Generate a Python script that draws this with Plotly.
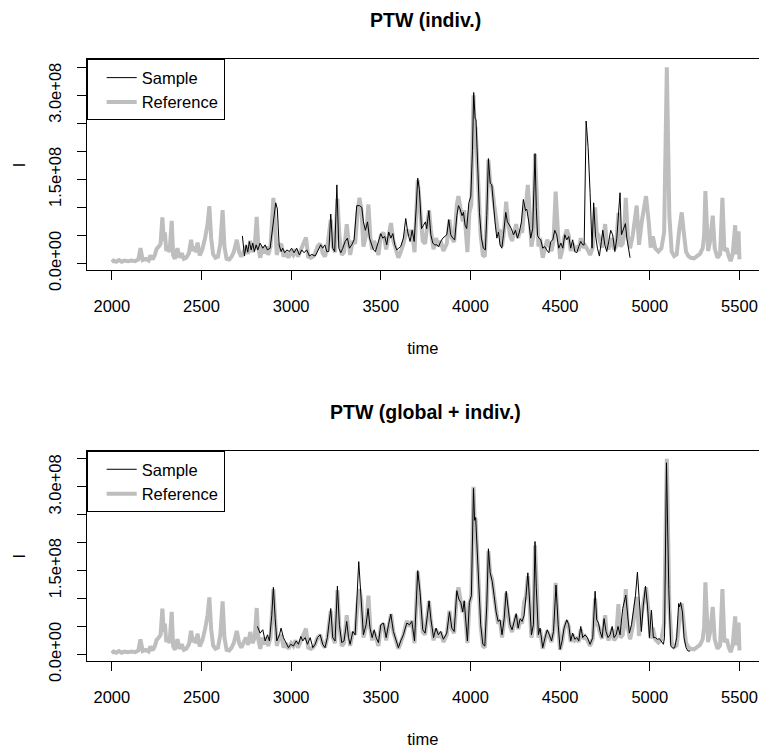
import numpy as np
import plotly.graph_objects as go

# ---------------- data (intensity in units of 1e8) ----------------
ref_time = [2000, 2010, 2025, 2040, 2055, 2070, 2090, 2110, 2130, 2148, 2160, 2172, 2190, 2205, 2215, 2228,
            2240, 2250, 2262, 2272, 2282, 2290, 2296, 2304, 2312, 2322, 2334, 2342, 2352, 2366, 2378, 2390,
            2402, 2415, 2430, 2442, 2452, 2462, 2470, 2478, 2490, 2505, 2520, 2534, 2544, 2554, 2565, 2578,
            2592, 2605, 2618, 2628, 2640, 2655, 2668, 2680, 2697, 2710, 2722, 2735, 2748, 2760, 2772, 2785,
            2797, 2808, 2818, 2828, 2840, 2852, 2862, 2872, 2885, 2901, 2912, 2920, 2932, 2945, 2958, 2970,
            2985, 3000, 3012, 3025, 3038, 3050, 3065, 3083, 3095, 3110, 3121, 3134, 3147, 3162, 3176, 3189,
            3202, 3221, 3232, 3245, 3258, 3269, 3282, 3295, 3310, 3320, 3329, 3344, 3357, 3370, 3381, 3392,
            3403, 3418, 3431, 3442, 3452, 3463, 3474, 3487, 3500, 3515, 3530, 3543, 3557, 3570, 3585, 3598,
            3611, 3626, 3645, 3660, 3673, 3688, 3706, 3719, 3734, 3747, 3760, 3769, 3779, 3794, 3808, 3821,
            3834, 3849, 3868, 3883, 3896, 3909, 3924, 3933, 3946, 3957, 3965, 3972, 3983, 3994, 4005, 4017,
            4023, 4029, 4044, 4057, 4069, 4080, 4091, 4100, 4110, 4121, 4132, 4143, 4154, 4165, 4176, 4188,
            4199, 4210, 4221, 4232, 4243, 4255, 4266, 4277, 4288, 4299, 4310, 4320, 4329, 4340, 4351, 4360,
            4370, 4379, 4388, 4403, 4416, 4428, 4440, 4452, 4463, 4475, 4489, 4500, 4511, 4522, 4537, 4548,
            4559, 4570, 4582, 4593, 4604, 4615, 4626, 4639, 4652, 4667, 4682, 4695, 4704, 4714, 4723, 4734,
            4751, 4760, 4770, 4779, 4790, 4801, 4812, 4825, 4836, 4849, 4856, 4866, 4877, 4890, 4905, 4927,
            4940, 4955, 4979, 4994, 5005, 5017, 5030, 5048, 5065, 5080, 5095, 5109, 5122, 5136, 5150, 5165,
            5178, 5191, 5202, 5215, 5228, 5247, 5262, 5280, 5295, 5303, 5310, 5325, 5336, 5351, 5362, 5377,
            5392, 5405, 5416, 5429, 5440, 5451, 5462, 5476, 5485, 5495, 5500]
ref_I = [0.02, 0.05, 0.03, 0.06, 0.03, 0.05, 0.04, 0.05, 0.04, 0.07, 0.27, 0.06, 0.08, 0.05, 0.14, 0.07,
         0.15, 0.26, 0.30, 0.35, 0.82, 0.40, 0.55, 0.22, 0.30, 0.20, 0.76, 0.15, 0.08, 0.27, 0.10, 0.18,
         0.08, 0.10, 0.18, 0.42, 0.22, 0.30, 0.20, 0.37, 0.14, 0.25, 0.45, 0.70, 1.02, 0.45, 0.16, 0.10,
         0.12, 0.35, 0.95, 0.30, 0.08, 0.07, 0.12, 0.20, 0.42, 0.20, 0.12, 0.20, 0.30, 0.17, 0.40, 0.20,
         0.30, 0.83, 0.25, 0.10, 0.30, 0.18, 0.30, 0.15, 0.30, 1.17, 0.50, 0.15, 0.30, 0.35, 0.12, 0.20,
         0.10, 0.20, 0.15, 0.25, 0.12, 0.20, 0.30, 0.46, 0.12, 0.10, 0.12, 0.18, 0.30, 0.35, 0.18, 0.12,
         0.30, 0.78, 0.30, 0.20, 1.15, 0.50, 0.15, 0.20, 0.70, 0.30, 0.15, 0.40, 0.35, 0.90, 1.17, 0.95,
         0.30, 0.50, 1.05, 0.45, 0.25, 0.40, 0.25, 0.15, 0.50, 0.55, 0.25, 0.50, 0.72, 0.40, 0.20, 0.10,
         0.20, 0.35, 0.60, 0.50, 0.60, 0.20, 1.48, 1.05, 0.40, 0.35, 0.70, 0.95, 0.60, 0.25, 0.45, 0.30,
         0.40, 0.22, 0.35, 0.78, 0.45, 0.38, 1.05, 1.20, 0.95, 0.75, 0.95, 0.60, 0.20, 0.90, 1.05, 3.00,
         2.40, 2.40, 1.40, 0.50, 0.15, 0.12, 0.85, 1.85, 1.45, 1.35, 1.05, 0.72, 0.55, 0.60, 0.30, 0.60,
         1.10, 0.72, 0.50, 0.40, 0.55, 0.70, 0.45, 0.60, 0.55, 0.93, 1.05, 1.40, 0.95, 0.30, 0.50, 1.95,
         1.20, 0.30, 0.45, 0.10, 0.28, 0.42, 0.32, 0.22, 0.40, 1.28, 0.50, 0.08, 0.22, 0.45, 0.60, 0.50,
         0.22, 0.35, 0.25, 0.28, 0.22, 0.45, 0.28, 0.32, 0.25, 0.15, 0.28, 1.00, 0.55, 0.50, 0.38, 0.28,
         0.70, 0.35, 0.25, 0.32, 0.45, 0.25, 0.30, 0.90, 0.30, 0.35, 0.50, 1.17, 0.50, 0.27, 0.50, 1.03,
         0.33, 0.74, 1.20, 0.74, 0.28, 0.48, 0.27, 0.21, 0.27, 0.56, 3.50, 0.85, 0.21, 0.13, 0.16, 0.62,
         0.91, 0.51, 0.21, 0.13, 0.10, 0.09, 0.13, 0.17, 0.27, 0.50, 1.29, 0.22, 0.39, 0.85, 0.27, 0.10,
         0.16, 1.17, 0.22, 0.27, 0.13, 0.04, 0.16, 0.68, 0.16, 0.57, 0.07]

# Sample after individual warping (top panel)
s1_time = [2728, 2740, 2749, 2758, 2767, 2777, 2786, 2795, 2805, 2814, 2827, 2842, 2855, 2868, 2883, 2901,
           2914, 2923, 2933, 2944, 2953, 2964, 2976, 2990, 3003, 3016, 3031, 3046, 3059, 3072, 3087, 3102,
           3115, 3134, 3152, 3165, 3176, 3188, 3199, 3210, 3221, 3232, 3243, 3255, 3266, 3277, 3288, 3301,
           3314, 3325, 3338, 3351, 3366, 3381, 3394, 3403, 3414, 3426, 3437, 3448, 3459, 3470, 3487, 3500,
           3511, 3522, 3533, 3544, 3556, 3567, 3578, 3589, 3600, 3611, 3626, 3639, 3650, 3663, 3675, 3686,
           3697, 3706, 3715, 3727, 3738, 3749, 3756, 3768, 3779, 3790, 3801, 3812, 3823, 3834, 3846, 3857,
           3868, 3879, 3890, 3901, 3912, 3924, 3933, 3942, 3953, 3961, 3970, 3979, 3991, 4002, 4011, 4018,
           4026, 4031, 4041, 4050, 4061, 4072, 4083, 4091, 4100, 4110, 4119, 4128, 4137, 4147, 4156, 4165,
           4175, 4184, 4197, 4206, 4217, 4228, 4240, 4251, 4262, 4273, 4284, 4295, 4307, 4314, 4325, 4336,
           4347, 4360, 4367, 4374, 4381, 4392, 4403, 4414, 4425, 4437, 4448, 4459, 4470, 4481, 4492, 4504,
           4515, 4526, 4537, 4548, 4559, 4570, 4582, 4593, 4604, 4615, 4626, 4634, 4645, 4656, 4667, 4678,
           4687, 4697, 4708, 4719, 4730, 4738, 4749, 4760, 4771, 4782, 4793, 4805, 4816, 4825, 4834, 4842,
           4853, 4864, 4872, 4881, 4890]
s1_I = [0.49, 0.13, 0.33, 0.20, 0.39, 0.24, 0.36, 0.21, 0.33, 0.24, 0.36, 0.27, 0.33, 0.24, 0.27, 0.74,
        1.08, 0.97, 0.33, 0.21, 0.27, 0.19, 0.24, 0.21, 0.27, 0.19, 0.27, 0.15, 0.24, 0.19, 0.24, 0.13,
        0.16, 0.13, 0.24, 0.33, 0.27, 0.33, 0.21, 0.21, 0.88, 0.27, 0.21, 1.40, 0.27, 0.19, 0.27, 0.39,
        0.45, 0.27, 0.33, 0.42, 1.03, 1.03, 1.00, 0.74, 0.59, 0.74, 0.45, 0.33, 0.24, 0.21, 0.39, 0.53,
        0.45, 0.48, 0.33, 0.56, 0.45, 0.53, 0.33, 0.24, 0.27, 0.30, 0.45, 0.80, 0.56, 0.39, 0.59, 0.39,
        0.97, 1.52, 1.32, 0.62, 0.68, 0.74, 0.62, 0.94, 0.51, 0.36, 0.33, 0.33, 0.30, 0.39, 0.45, 0.48,
        0.51, 0.78, 0.51, 0.45, 0.42, 0.85, 1.03, 0.97, 0.85, 0.91, 0.68, 0.62, 1.08, 1.20, 2.01, 3.05,
        2.59, 2.56, 1.84, 0.91, 0.45, 0.27, 0.24, 0.85, 1.87, 1.43, 1.40, 1.03, 0.74, 0.45, 0.56, 0.33,
        0.27, 0.51, 0.91, 0.74, 0.68, 0.62, 0.51, 0.59, 0.45, 0.56, 0.74, 1.14, 0.94, 0.97, 0.74, 0.45,
        0.62, 1.96, 1.00, 0.50, 0.45, 0.42, 0.27, 0.30, 0.24, 0.19, 0.39, 0.42, 0.59, 0.51, 0.27, 0.36,
        0.27, 0.51, 0.42, 0.48, 0.27, 0.42, 0.21, 0.19, 0.30, 0.39, 0.33, 0.33, 2.54, 2.07, 1.26, 0.27,
        1.08, 0.51, 0.27, 0.13, 0.39, 0.59, 0.33, 0.21, 0.39, 0.59, 0.51, 0.21, 0.45, 0.91, 1.26, 0.51,
        0.62, 0.71, 0.45, 0.24, 0.10]

# Sample after global + individual warping (bottom panel)
s2_time = [2812, 2827, 2842, 2855, 2868, 2879, 2892, 2901, 2911, 2920, 2935, 2944, 2957, 2972, 2985, 2998,
           3013, 3028, 3041, 3054, 3065, 3078, 3091, 3106, 3121, 3134, 3147, 3162, 3176, 3189, 3202, 3221,
           3232, 3245, 3258, 3269, 3282, 3295, 3310, 3320, 3329, 3344, 3357, 3377, 3388, 3403, 3418, 3429,
           3440, 3452, 3463, 3474, 3487, 3500, 3515, 3530, 3543, 3556, 3570, 3585, 3598, 3611, 3626, 3645,
           3660, 3673, 3688, 3706, 3719, 3734, 3747, 3760, 3769, 3779, 3794, 3808, 3821, 3834, 3849, 3868,
           3883, 3896, 3909, 3924, 3935, 3946, 3957, 3965, 3972, 3983, 3994, 4005, 4017, 4023, 4029, 4044,
           4057, 4069, 4080, 4091, 4100, 4110, 4121, 4132, 4143, 4154, 4165, 4176, 4188, 4199, 4210, 4221,
           4232, 4243, 4255, 4266, 4277, 4288, 4299, 4310, 4320, 4329, 4340, 4351, 4360, 4367, 4374, 4379,
           4388, 4403, 4416, 4428, 4440, 4452, 4463, 4477, 4489, 4500, 4511, 4522, 4537, 4548, 4559, 4570,
           4582, 4593, 4604, 4615, 4626, 4639, 4652, 4667, 4682, 4695, 4704, 4714, 4723, 4734, 4745, 4756,
           4767, 4779, 4790, 4801, 4812, 4823, 4834, 4849, 4866, 4875, 4886, 4898, 4909, 4920, 4931, 4942,
           4953, 4964, 4976, 4987, 4998, 5009, 5020, 5031, 5042, 5054, 5065, 5076, 5082, 5093, 5106, 5117,
           5128, 5139, 5150, 5161, 5166, 5172, 5182, 5191, 5202, 5213, 5225]
s2_I = [0.50, 0.38, 0.44, 0.24, 0.35, 0.24, 0.70, 1.20, 0.64, 0.24, 0.35, 0.47, 0.30, 0.21, 0.12, 0.18,
        0.15, 0.24, 0.18, 0.32, 0.24, 0.30, 0.18, 0.30, 0.12, 0.18, 0.30, 0.35, 0.18, 0.12, 0.30, 0.82,
        0.30, 0.24, 1.22, 0.53, 0.21, 0.24, 0.59, 0.30, 0.18, 0.41, 0.35, 1.66, 1.05, 0.35, 0.53, 0.82,
        0.47, 0.30, 0.44, 0.30, 0.21, 0.53, 0.56, 0.30, 0.53, 0.72, 0.41, 0.24, 0.12, 0.24, 0.35, 0.56,
        0.53, 0.59, 0.24, 1.50, 1.11, 0.44, 0.38, 0.70, 0.96, 0.64, 0.30, 0.47, 0.35, 0.41, 0.27, 0.38,
        0.76, 0.47, 0.41, 1.14, 0.99, 0.93, 0.76, 0.96, 0.64, 0.24, 0.93, 1.05, 2.97, 2.40, 2.45, 1.46,
        0.53, 0.18, 0.15, 0.88, 1.89, 1.46, 1.31, 1.05, 0.76, 0.59, 0.62, 0.35, 0.64, 1.13, 0.76, 0.53,
        0.44, 0.59, 0.73, 0.47, 0.64, 0.59, 0.70, 1.05, 1.46, 0.99, 0.35, 0.53, 2.02, 1.20, 0.53, 0.35,
        0.47, 0.12, 0.30, 0.44, 0.35, 0.24, 0.41, 1.24, 0.53, 0.09, 0.24, 0.47, 0.62, 0.53, 0.24, 0.38,
        0.27, 0.30, 0.24, 0.50, 0.30, 0.35, 0.30, 0.18, 0.30, 1.13, 0.62, 0.56, 0.41, 0.30, 0.64, 0.41,
        0.30, 0.35, 0.50, 0.30, 0.35, 0.50, 0.35, 0.82, 1.06, 0.76, 0.38, 0.53, 0.82, 1.05, 1.47, 0.99,
        0.41, 0.88, 1.22, 0.88, 0.30, 0.79, 0.30, 0.30, 0.27, 0.28, 0.24, 0.18, 0.30, 3.43, 1.16, 0.15,
        0.11, 0.12, 0.30, 0.91, 0.85, 0.93, 0.76, 0.30, 0.12, 0.06, 0.06]

panel_titles = ["PTW (indiv.)", "PTW (global + indiv.)"]
x_tick_vals = [2000, 2500, 3000, 3500, 4000, 4500, 5000, 5500]
y_tick_vals = [0, 0.5e8, 1.0e8, 1.5e8, 2.0e8, 2.5e8, 3.0e8, 3.5e8]
y_tick_text = ["0.0e+00", "", "", "1.5e+08", "", "", "3.0e+08", ""]
SCALE = 1e8

# ---------------- layout constants ----------------
W, H = 759, 756
FONT = "Liberation Sans, Arial, Helvetica, sans-serif"
FS = 16.5
GREY = "#BEBEBE"
left_px = 86.7
top_box = (61.0, 277.7)
bot_box = (463.3, 679.3)
x_range = [1860, 1860 + (W - left_px) / 0.17933]
y_range = [-0.125e8, 3.64e8]

def dom(box):
    return [1 - box[1] / H, 1 - box[0] / H]

fig = go.Figure()
sets = [("x", "y", "legend", s1_time, s1_I), ("x2", "y2", "legend2", s2_time, s2_I)]
for xa, ya, lg, st, si in sets:
    fig.add_trace(go.Scatter(x=ref_time, y=np.array(ref_I) * SCALE, mode="lines", name="Reference",
                             line=dict(color=GREY, width=4), xaxis=xa, yaxis=ya, legend=lg))
    fig.add_trace(go.Scatter(x=st, y=np.array(si) * SCALE, mode="lines", name="Sample",
                             line=dict(color="black", width=1), xaxis=xa, yaxis=ya, legend=lg))

def xaxis(anchor):
    return dict(domain=[left_px / W, 1.0], range=x_range, anchor=anchor,
                showline=True, mirror=True, linecolor="black", linewidth=1,
                ticks="outside", ticklen=9, tickwidth=1, tickcolor="black",
                tickvals=x_tick_vals, ticktext=[str(v) for v in x_tick_vals],
                tickfont=dict(family=FONT, size=FS, color="black"),
                ticklabelstandoff=12,
                showgrid=False, zeroline=False,
                title=dict(text="time", font=dict(family=FONT, size=FS, color="black"), standoff=28))

def yaxis(anchor, box):
    return dict(domain=dom(box), range=y_range, anchor=anchor,
                showline=True, mirror=False, linecolor="black", linewidth=1,
                ticks="outside", ticklen=9, tickwidth=1, tickcolor="black",
                tickvals=y_tick_vals, ticktext=y_tick_text, tickangle=-90,
                tickfont=dict(family=FONT, size=FS, color="black"),
                ticklabelstandoff=9,
                showgrid=False, zeroline=False,
                title=dict(text="I", font=dict(family=FONT, size=FS, color="black"), standoff=16))

def legend(box):
    return dict(x=left_px / W, y=1 - box[0] / H, xanchor="left", yanchor="top",
                bordercolor="black", borderwidth=1, bgcolor="white",
                font=dict(family=FONT, size=FS, color="black"),
                traceorder="reversed", itemwidth=30, indentation=14)

fig.update_layout(
    width=W, height=H, margin=dict(l=0, r=0, t=0, b=0),
    paper_bgcolor="white", plot_bgcolor="white",
    showlegend=True,
    xaxis=xaxis("y"), yaxis=yaxis("x", top_box),
    xaxis2=xaxis("y2"), yaxis2=yaxis("x2", bot_box),
    legend=legend(top_box), legend2=legend(bot_box),
    annotations=[
        dict(text="<b>%s</b>" % panel_titles[0], x=(left_px + 764.5) / 2 / W, y=1 - 21 / H,
             xref="paper", yref="paper", xanchor="center", yanchor="middle", showarrow=False,
             font=dict(family=FONT, size=19.5, color="black")),
        dict(text="<b>%s</b>" % panel_titles[1], x=(left_px + 764.5) / 2 / W, y=1 - 423.3 / H,
             xref="paper", yref="paper", xanchor="center", yanchor="middle", showarrow=False,
             font=dict(family=FONT, size=19.5, color="black")),
    ],
)

fig.write_html("out.html")
